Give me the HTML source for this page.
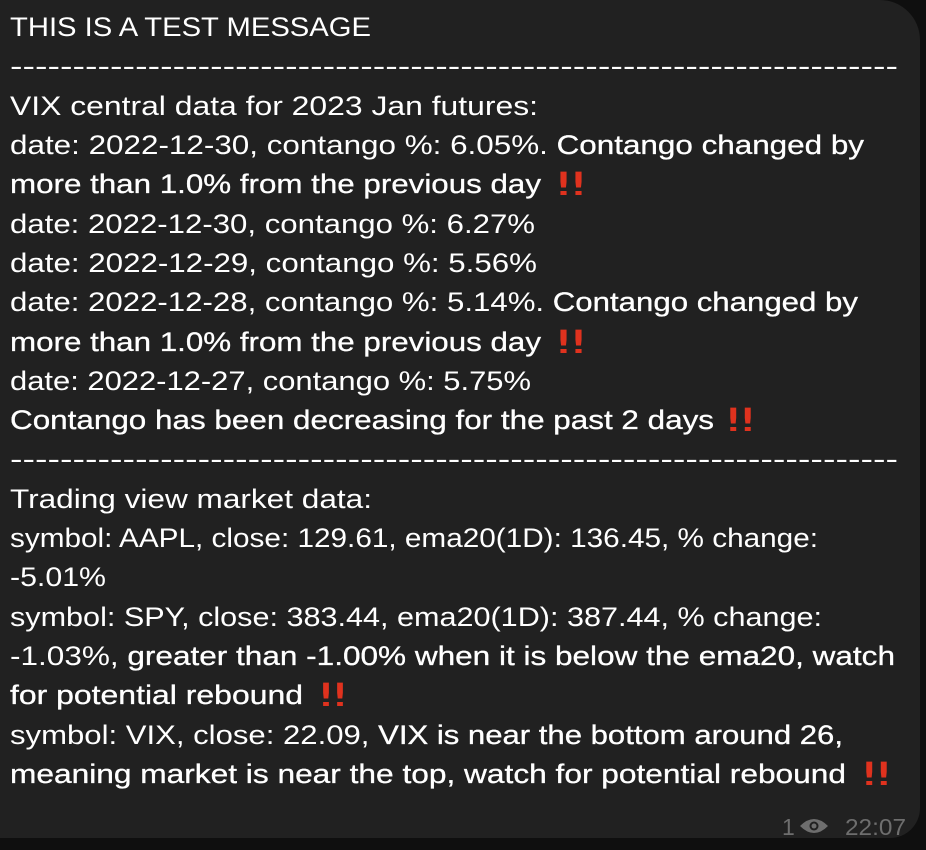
<!DOCTYPE html>
<html><head><meta charset="utf-8"><style>
html,body{margin:0;padding:0;background:#0f0f0f;width:926px;height:850px;overflow:hidden}
svg{display:block}
.t{font-family:"Liberation Sans","DejaVu Sans",sans-serif;font-size:27px;fill:#fff}
.b{stroke:#fff;stroke-width:0.3}
.x{font-family:"DejaVu Sans",sans-serif;font-size:32px;fill:#e0321e}
.m{font-family:"Liberation Sans",sans-serif;font-size:23px;fill:#6e6e6e}
</style></head><body>
<svg width="926" height="850">
<rect x="0" y="0" width="920" height="838" rx="0" fill="#212121"/>
<path d="M880 0 H920 V40 A40 40 0 0 0 880 0Z" fill="#0f0f0f"/>
<path d="M920 808 V838 H890 A30 30 0 0 0 920 808Z" fill="#0f0f0f"/>
<g>
<text class="t" x="10" y="36" textLength="361" lengthAdjust="spacingAndGlyphs">THIS IS A TEST MESSAGE</text>
<text class="t" x="10" y="75" textLength="888" lengthAdjust="spacingAndGlyphs">-----------------------------------------------------------------------</text>
<text class="t" x="10" y="115" textLength="528" lengthAdjust="spacingAndGlyphs">VIX central data for 2023 Jan futures:</text>
<text class="t" x="10" y="154" textLength="854" lengthAdjust="spacingAndGlyphs">date: 2022-12-30, contango %: 6.05%. <tspan class="b">Contango changed by</tspan></text>
<text class="t b" x="10" y="193" textLength="531" lengthAdjust="spacingAndGlyphs">more than 1.0% from the previous day</text>
<text class="x" x="556" y="195" textLength="30" lengthAdjust="spacingAndGlyphs">‼</text>
<text class="t" x="10" y="233" textLength="525" lengthAdjust="spacingAndGlyphs">date: 2022-12-30, contango %: 6.27%</text>
<text class="t" x="10" y="272" textLength="527" lengthAdjust="spacingAndGlyphs">date: 2022-12-29, contango %: 5.56%</text>
<text class="t" x="10" y="311" textLength="848" lengthAdjust="spacingAndGlyphs">date: 2022-12-28, contango %: 5.14%. <tspan class="b">Contango changed by</tspan></text>
<text class="t b" x="10" y="351" textLength="531" lengthAdjust="spacingAndGlyphs">more than 1.0% from the previous day</text>
<text class="x" x="556" y="353" textLength="30" lengthAdjust="spacingAndGlyphs">‼</text>
<text class="t" x="10" y="390" textLength="521" lengthAdjust="spacingAndGlyphs">date: 2022-12-27, contango %: 5.75%</text>
<text class="t b" x="10" y="429" textLength="704" lengthAdjust="spacingAndGlyphs">Contango has been decreasing for the past 2 days</text>
<text class="x" x="726" y="431" textLength="29" lengthAdjust="spacingAndGlyphs">‼</text>
<text class="t" x="10" y="468" textLength="888" lengthAdjust="spacingAndGlyphs">-----------------------------------------------------------------------</text>
<text class="t" x="10" y="508" textLength="362" lengthAdjust="spacingAndGlyphs">Trading view market data:</text>
<text class="t" x="10" y="547" textLength="808" lengthAdjust="spacingAndGlyphs">symbol: AAPL, close: 129.61, ema20(1D): 136.45, % change:</text>
<text class="t" x="10" y="586" textLength="96" lengthAdjust="spacingAndGlyphs">-5.01%</text>
<text class="t" x="10" y="626" textLength="812" lengthAdjust="spacingAndGlyphs">symbol: SPY, close: 383.44, ema20(1D): 387.44, % change:</text>
<text class="t" x="10" y="665" textLength="885" lengthAdjust="spacingAndGlyphs">-1.03%, <tspan class="b">greater than -1.00% when it is below the ema20, watch</tspan></text>
<text class="t b" x="10" y="704" textLength="293" lengthAdjust="spacingAndGlyphs">for potential rebound</text>
<text class="x" x="319" y="706" textLength="28" lengthAdjust="spacingAndGlyphs">‼</text>
<text class="t" x="10" y="744" textLength="833" lengthAdjust="spacingAndGlyphs">symbol: VIX, close: 22.09, <tspan class="b">VIX is near the bottom around 26,</tspan></text>
<text class="t b" x="10" y="783" textLength="836" lengthAdjust="spacingAndGlyphs">meaning market is near the top, watch for potential rebound</text>
<text class="x" x="862" y="785" textLength="29" lengthAdjust="spacingAndGlyphs">‼</text>
</g>
<g>
<text class="m" x="782" y="835">1</text>
<g>
<path d="M800 826 Q814 812 828 826 Q814 840 800 826Z" fill="#6e6e6e"/>
<circle cx="814" cy="826" r="4.5" fill="#212121"/>
<circle cx="814" cy="826" r="2.5" fill="#6e6e6e"/>
</g>
<text class="m" x="845" y="835" textLength="61" lengthAdjust="spacingAndGlyphs">22:07</text>
</g>
</svg>
</body></html>
